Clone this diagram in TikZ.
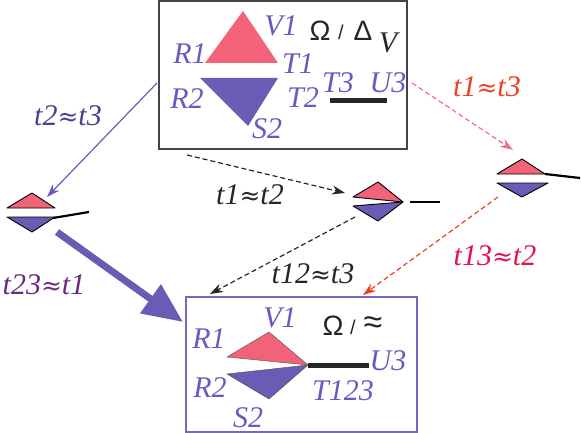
\documentclass[tikz,border=0pt]{standalone}
\usepackage{fontspec}
\setmainfont{Liberation Serif}[ItalicFont=Liberation Serif Italic]
\newfontfamily\sansf{Liberation Sans}
\newfontfamily\apxfont{DejaVu Serif}
\newcommand{\apx}{{\apxfont\upshape\fontsize{25}{25}\selectfont≈}}
\usetikzlibrary{arrows.meta}
\definecolor{redf}{HTML}{F2637A}
\definecolor{purf}{HTML}{6A5BB5}
\definecolor{labp}{HTML}{6A5AC0}
\definecolor{labdp}{HTML}{4B4090}
\definecolor{plum}{HTML}{6B2A80}
\definecolor{orng}{HTML}{F04020}
\definecolor{crim}{HTML}{E8104A}
\definecolor{pinkl}{HTML}{F07088}
\definecolor{boxg}{HTML}{444444}
\definecolor{boxp}{HTML}{7866C0}
\begin{document}
\begin{tikzpicture}[x=1pt,y=-1pt,
  lab/.style={font=\fontsize{30}{32}\selectfont\itshape, inner sep=0pt},
  inlab/.style={lab, text=labp},
  om/.style={font=\fontsize{28}{30}\selectfont\sansf, inner sep=0pt, text=black!85},
  redtri/.style={fill=redf},
  purtri/.style={fill=purf},
  smallred/.style={fill=redf, draw=black, line width=0.9pt, line join=round},
  smallpur/.style={fill=purf, draw=black, line width=0.9pt, line join=round},
  bar/.style={draw=black!85, line width=5pt},
  thinbar/.style={draw=black, line width=2.2pt},
  arr/.style={line width=1.2pt, -{Stealth[length=13pt,width=9pt]}},
  dsh/.style={arr, dash pattern=on 5pt off 3pt},
  boxtop/.style={draw=boxg, line width=1.8pt, minimum width=248pt, minimum height=148pt, inner sep=0pt},
  boxbot/.style={draw=boxp, line width=1.5pt, minimum width=231pt, minimum height=135pt, inner sep=0pt}
]
\useasboundingbox (0,0) rectangle (581,433);

% boxes
\node[boxtop] (topbox) at (283,75) {};
\node[boxbot] (botbox) at (301.5,364.5) {};

% top box content
\path[redtri] (205,63) -- (243,11) -- (278,63) -- cycle;
\path[purtri] (200,78) -- (278,78) -- (248,126) -- cycle;
\node[inlab] (tV1) at (281,26) {V1};
\node[inlab] (tR1) at (190,54) {R1};
\node[inlab] (tT1) at (298,64) {T1};
\node[inlab] (tR2) at (187,99) {R2};
\node[inlab] (tT2) at (303,98) {T2};
\node[inlab] (tS2) at (267,129) {S2};
\node[inlab] (tT3) at (338,83) {T3};
\node[inlab] (tU3) at (388,83) {U3};
\draw[bar] (330,101) -- (387,101);
\node[om] (tOm) at (320,31) {Ω};
\node[om, font=\fontsize{20}{22}\selectfont\sansf] (tSl) at (341,32) {/};
\node[om] (tDe) at (363,31) {Δ};
\node[lab, text=black!85] (tVs) at (388,43) {V};

% left diamond
\path[smallred] (7,208) -- (32,193) -- (55,208) -- cycle;
\path[smallpur] (7,217) -- (55,217) -- (32,232) -- cycle;
\draw[thinbar] (53,218) -- (89,212);
\coordinate (ldin) at (47,197);
\coordinate (ldout) at (57,232);

% middle diamond
\path[smallred] (353,197) -- (378,182) -- (403,202) -- cycle;
\path[smallpur] (353,206) -- (403,202) -- (378,221) -- cycle;
\draw[thinbar] (410,202) -- (440,202);
\coordinate (mdin) at (345,193);
\coordinate (mdout) at (355,217);

% right diamond
\path[smallred] (497,174) -- (522,159) -- (545,174) -- cycle;
\path[smallpur] (497,183) -- (548,183) -- (522,197) -- cycle;
\draw[thinbar] (545,174) -- (580,178);
\coordinate (rdin) at (513,150);
\coordinate (rdout) at (498,197);

% bottom box content
\path[redtri, draw=black!70, line width=0.4pt] (227,357) -- (269,332) -- (308,365) -- cycle;
\path[purtri, draw=black!70, line width=0.4pt] (227,374) -- (308,365) -- (269,399) -- cycle;
\draw[bar] (308,365) -- (369,365);
\node[inlab] (bV1) at (280,318) {V1};
\node[inlab] (bR1) at (209,339) {R1};
\node[inlab] (bR2) at (210,388) {R2};
\node[inlab] (bS2) at (248,418) {S2};
\node[inlab] (bT) at (343,391) {T123};
\node[inlab] (bU3) at (388,361) {U3};
\node[om] (bOm) at (333,326) {Ω};
\node[om, font=\fontsize{20}{22}\selectfont\sansf] (bSl) at (353,327) {/};
\node[om, font=\fontsize{34}{34}\selectfont\sansf] (bAp) at (373,325) {≈};

% connector endpoints
\coordinate (s1) at (157,83);
\coordinate (s2) at (187,155);
\coordinate (s3) at (412,83);
\coordinate (e4) at (183,322);
\coordinate (e5) at (210,294);
\coordinate (e6) at (363,295);

% connectors
\draw[arr, draw=labp] (s1) -- (ldin);
\draw[line width=7pt, draw=purf, -{Triangle[length=40pt,width=34pt]}] (ldout) -- (e4);
\draw[dsh, draw=black!85] (s2) -- (mdin);
\draw[dsh, draw=pinkl] (s3) -- (rdin);
\draw[dsh, draw=orng] (rdout) -- (e6);
\draw[dsh, draw=black!85] (mdout) -- (e5);

% connector labels
\node[lab, text=labdp] (l1) at (68,116) {t2\apx t3};
\node[lab, text=plum] (l2) at (44,285) {t23\apx t1};
\node[lab, text=black!85] (l3) at (250,195) {t1\apx t2};
\node[lab, text=orng] (l4) at (487,87) {t1\apx t3};
\node[lab, text=crim] (l5) at (495,256) {t13\apx t2};
\node[lab, text=black!85] (l6) at (313,274) {t12\apx t3};
\end{tikzpicture}
\end{document}
